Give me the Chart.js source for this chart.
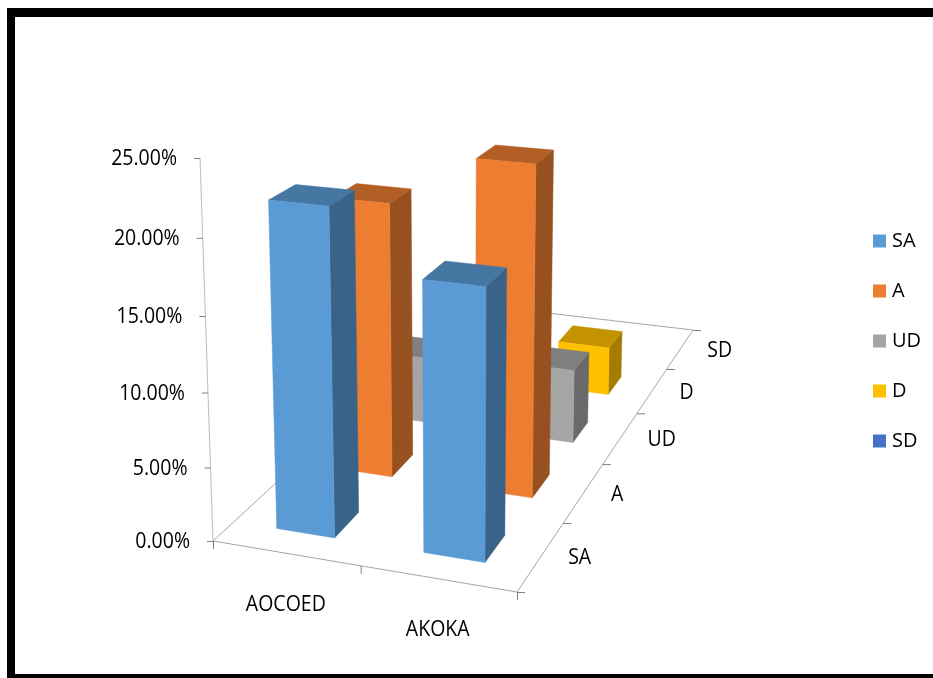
<!DOCTYPE html>
<html>
<head>
<meta charset="utf-8">
<style>html,body{margin:0;padding:0;background:#fff;overflow:hidden}canvas{display:block}</style>
<script src="https://cdn.jsdelivr.net/npm/chart.js@4/dist/chart.umd.min.js"></script>
</head>
<body>
<canvas id="c" width="933" height="678"></canvas>
<script>
// ---- data ----
const categories = ['AOCOED', 'AKOKA'];
const seriesNames = ['SA', 'A', 'UD', 'D', 'SD'];
const valuesSA = [21.9, 17.9];
const valuesA  = [19.5, 23.1];
const valuesUD = [5.0, 5.5];
const valuesD  = [0, 3.8];
const valuesSD = [0, 0];
const seriesValues = [valuesSA, valuesA, valuesUD, valuesD, valuesSD];
const valueTicks = { min: 0, max: 25, step: 5 };

// ---- style ----
const frontColors = ['#5B9BD5', '#ED7D31', '#A5A5A5', '#FFC000', '#4472C4'];
const sideColors  = ['#3A638A', '#97501F', '#6A6A6A', '#A67C00', '#2C4A7F'];
const topColors   = ['#4677A3', '#B25E25', '#7F7F7F', '#C49400', '#345A96'];
const FONT_FAMILY = '"Open Sans", sans-serif';
const FONT = '19.5px ' + FONT_FAMILY;
const TEXT_STRETCH = 1.13;
const BAR_FRACTION = 0.4;

// ---- 3D view: homogeneous camera built from the floor corners and the vertical axis ----
const floor = { p00: [213, 541], p10: [517, 592], p11: [693, 330], p01: [470, 304] };
const vertical = [-23.1, -391, -0.0506];
const cam = (function () {
  const [x0, y0] = floor.p00, [x1, y1] = floor.p10, [x2, y2] = floor.p11, [x3, y3] = floor.p01;
  const dx1 = x1 - x2, dx2 = x3 - x2, sx = x0 - x1 + x2 - x3;
  const dy1 = y1 - y2, dy2 = y3 - y2, sy = y0 - y1 + y2 - y3;
  const det = dx1 * dy2 - dx2 * dy1;
  const g = (sx * dy2 - dx2 * sy) / det, h = (dx1 * sy - sx * dy1) / det;
  return { a: x1 - x0 + g * x1, b: x3 - x0 + h * x3, c: x0, d: y1 - y0 + g * y1, e: y3 - y0 + h * y3, f: y0, g, h };
})();
function project(u, v, w) {
  const W = 1 + cam.g * u + cam.h * v + vertical[2] * w;
  return [(cam.a * u + cam.b * v + cam.c + vertical[0] * w) / W,
          (cam.d * u + cam.e * v + cam.f + vertical[1] * w) / W];
}

function poly(ctx, pts, color) {
  ctx.beginPath();
  pts.forEach((p, i) => i ? ctx.lineTo(p[0], p[1]) : ctx.moveTo(p[0], p[1]));
  ctx.closePath();
  ctx.fillStyle = color;
  ctx.fill();
  ctx.strokeStyle = color;
  ctx.lineWidth = 0.5;
  ctx.stroke();
}
function seg(ctx, a, b, color) {
  ctx.beginPath();
  ctx.moveTo(a[0], a[1]);
  ctx.lineTo(b[0], b[1]);
  ctx.strokeStyle = color;
  ctx.lineWidth = 1;
  ctx.stroke();
}
function label(ctx, text, x, y) {
  ctx.save();
  ctx.translate(x, y);
  ctx.scale(1, TEXT_STRETCH);
  ctx.fillStyle = '#000';
  ctx.fillText(text, 0, 0);
  ctx.restore();
}

const view3d = {
  id: 'view3d',
  beforeDraw(chart) {
    const ctx = chart.ctx;
    ctx.save();
    ctx.fillStyle = '#fff';
    ctx.fillRect(0, 0, chart.width, chart.height);
    ctx.fillStyle = '#000';
    ctx.fillRect(7, 8, chart.width - 7, 9);
    ctx.fillRect(7, 8, 8, chart.height - 8);
    ctx.fillRect(7, 674, chart.width - 7, 4);
    ctx.restore();
  },
  afterLayout(chart) {
    const lg = chart.legend, pad = lg.options.labels.padding;
    const w = lg.width;
    lg.left = 877 - pad;
    lg.right = lg.left + w;
    lg.top += 2;
    lg.bottom += 2;
  },
  beforeDatasetsDraw(chart) {
    const ctx = chart.ctx, xs = chart.scales.x, ys = chart.scales.y, ds = chart.scales.d;
    const U = px => (px - xs.left) / xs.width;
    const V = px => (px - ds.left) / ds.width;
    const H = val => (ys.bottom - ys.getPixelForValue(val)) / ys.height;
    ctx.save();
    // axes
    const axisC = '#A6A6A6', tickC = '#808080';
    seg(ctx, project(0, 0, 0), project(0, 0, 1), '#BDBDBD');
    seg(ctx, project(0, 0, 0), project(1, 0, 0), axisC);
    seg(ctx, project(1, 0, 0), project(1, 1, 0), axisC);
    seg(ctx, project(1, 1, 0), project(0, 1, 0), axisC);
    seg(ctx, project(0, 0, 0), project(0, 1, 0), axisC);
    ctx.font = FONT;
    ctx.textBaseline = 'middle';
    // value axis ticks and labels
    ctx.textAlign = 'right';
    ys.ticks.forEach(t => {
      const p = project(0, 0, H(t.value));
      seg(ctx, [p[0] - 6, p[1] + 0.5], [p[0], p[1] + 0.5], tickC);
      label(ctx, t.label, p[0] - 23, p[1] + 1);
    });
    // category axis ticks and labels
    ctx.textAlign = 'center';
    [0, 0.5, 1].forEach(u => {
      const p = project(u, 0, 0);
      seg(ctx, [p[0] + 0.5, p[1]], [p[0] + 0.5, p[1] + 8], tickC);
    });
    xs.getLabels().forEach((lab, i) => {
      const p = project(U(xs.getPixelForValue(i)), 0, 0);
      label(ctx, lab, p[0], p[1] + 51);
    });
    // depth axis ticks and labels
    ctx.textAlign = 'left';
    for (let k = 0; k <= ds.getLabels().length; k++) {
      const p = project(1, k / ds.getLabels().length, 0);
      seg(ctx, [p[0], p[1] + 0.5], [p[0] + 8, p[1] + 0.5], tickC);
    }
    ds.getLabels().forEach((lab, j) => {
      const p = project(1, V(ds.getPixelForValue(j)), 0);
      label(ctx, lab, p[0] + 27, p[1] + 2);
    });
    // boxes, back row first
    const halfU = BAR_FRACTION / xs.getLabels().length / 2;
    const halfV = BAR_FRACTION / ds.getLabels().length / 2;
    for (let j = chart.data.datasets.length - 1; j >= 0; j--) {
      if (!chart.isDatasetVisible(j)) continue;
      const set = chart.data.datasets[j];
      const vc = V(ds.getPixelForValue(j));
      set.data.forEach((val, i) => {
        if (!val) return;
        const uc = U(xs.getPixelForValue(i));
        const u0 = uc - halfU, u1 = uc + halfU, v0 = vc - halfV, v1 = vc + halfV, w = H(val);
        poly(ctx, [project(u1, v0, 0), project(u1, v1, 0), project(u1, v1, w), project(u1, v0, w)], sideColors[j]);
        poly(ctx, [project(u0, v0, w), project(u1, v0, w), project(u1, v1, w), project(u0, v1, w)], topColors[j]);
        poly(ctx, [project(u0, v0, 0), project(u1, v0, 0), project(u1, v0, w), project(u0, v0, w)], frontColors[j]);
      });
    }
    ctx.restore();
    return false;
  }
};

new Chart(document.getElementById('c'), {
  type: 'bar',
  data: {
    labels: categories,
    datasets: seriesNames.map((name, j) => ({
      label: name,
      data: seriesValues[j],
      backgroundColor: frontColors[j],
      borderColor: frontColors[j],
      borderWidth: 0
    }))
  },
  options: {
    responsive: false,
    animation: false,
    layout: { padding: { top: 0, bottom: 0, left: 0, right: 0 } },
    scales: {
      x: { type: 'category', display: false, offset: true },
      d: { type: 'category', axis: 'x', labels: seriesNames, display: false, offset: true },
      y: {
        type: 'linear', display: false,
        min: valueTicks.min, max: valueTicks.max,
        ticks: { stepSize: valueTicks.step, callback: v => v.toFixed(2) + '%' }
      }
    },
    plugins: {
      title: { display: false },
      tooltip: { enabled: false },
      legend: {
        display: true,
        position: 'right',
        labels: {
          usePointStyle: true, pointStyle: 'rect',
          boxWidth: 5, boxHeight: 13, padding: 30,
          color: '#000',
          font: { family: FONT_FAMILY, size: 20 }
        }
      }
    }
  },
  plugins: [view3d]
});
</script>
</body>
</html>
